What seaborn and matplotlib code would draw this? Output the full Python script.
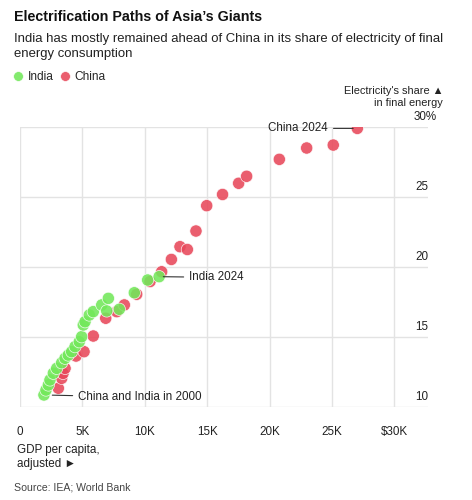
import matplotlib
matplotlib.use("Agg")
import matplotlib.pyplot as plt
import matplotlib.transforms as mtransforms
import numpy as np
import pandas as pd
import seaborn as sns


# GDP per capita (thousand $) and electricity share of final energy (%)
india_gdp = [1.92, 2.08, 2.27, 2.40, 2.67, 2.94, 3.34, 3.61, 3.87, 4.14, 4.41, 4.75,
             4.94, 5.07, 5.21, 5.55, 5.87, 6.55, 7.08, 6.95, 7.96, 9.16, 10.23, 11.15]
india_share = [10.86, 11.21, 11.57, 11.93, 12.41, 12.76, 13.16, 13.48, 13.71, 13.95, 14.31, 14.66,
               15.02, 15.86, 16.09, 16.57, 16.81, 17.29, 17.76, 16.86, 16.98, 18.16, 19.07, 19.31]

china_gdp = [3.07, 3.34, 3.45, 3.61, 4.49, 5.13, 5.87, 6.87, 7.75, 8.36, 9.35, 10.42, 11.35,
             12.13, 12.82, 13.41, 14.10, 14.96, 16.23, 17.52, 18.16, 20.78, 22.97, 25.10, 27.03]
china_share = [11.34, 12.05, 12.40, 12.76, 13.64, 13.95, 15.07, 16.34, 16.81, 17.29, 18.05, 18.96, 19.66,
               20.54, 21.45, 21.25, 22.57, 24.38, 25.18, 25.98, 26.48, 27.69, 28.50, 28.71, 29.90]

x_ticks = [0, 5, 10, 15, 20, 25, 30]
x_labels = ["0", "5K", "10K", "15K", "20K", "25K", "$30K"]
y_ticks = [10, 15, 20, 25, 30]
y_labels = ["10", "15", "20", "25", "30%"]

colors = {"India": "#72e85a", "China": "#e8485a"}

df = pd.concat([
    pd.DataFrame({"gdp": china_gdp, "share": china_share, "country": "China"}),
    pd.DataFrame({"gdp": india_gdp, "share": india_share, "country": "India"}),
])

sns.set_theme(style="white")
plt.rcParams["font.family"] = ["Liberation Sans", "DejaVu Sans"]

W, H = 472, 500
fig = plt.figure(figsize=(W / 100, H / 100), dpi=100)
ax = fig.add_axes([20 / W, 1 - 407 / H, 408 / W, 280 / H])

sns.scatterplot(data=df, x="gdp", y="share", hue="country", hue_order=["India", "China"],
                palette=colors, s=78, alpha=0.88, edgecolor="white", linewidth=0.5,
                ax=ax, zorder=3)

ax.set_xlim(0, 408 / 12.48)
ax.set_ylim(10, 30)
ax.set_xticks(x_ticks)
ax.set_xticklabels(x_labels, fontsize=8.4, color="#222222")
ax.set_yticks(y_ticks)
ax.set_yticklabels([])
ax.tick_params(axis="y", length=0)
ax.tick_params(axis="x", length=5, color="#e3e3e3", width=1, pad=9)
ax.grid(True, color="#e3e3e3", linewidth=1)
ax.set_axisbelow(True)
for sp in ax.spines.values():
    sp.set_visible(False)
ax.set_xlabel("")
ax.set_ylabel("")

trans = mtransforms.blended_transform_factory(ax.transAxes, ax.transData)
for yv, lab in zip(y_ticks, y_labels):
    dx = 6.5 if lab.endswith("%") else 0
    ax.annotate(lab, xy=(1.0, yv), xycoords=trans, xytext=(dx, 3), textcoords="offset points",
                ha="right", va="bottom", fontsize=8.4, color="#222222")

# annotations
line = dict(arrowstyle="-", color="#333333", lw=0.8, shrinkA=1.5, shrinkB=3)
ax.annotate("China 2024", xy=(china_gdp[-1], china_share[-1]), xytext=(-21, 0),
            textcoords="offset points", ha="right", va="center", fontsize=8.4, color="#222222",
            arrowprops=line)
ax.annotate("India 2024", xy=(india_gdp[-1], india_share[-1]), xytext=(21.5, -0.5),
            textcoords="offset points", ha="left", va="center", fontsize=8.4, color="#222222",
            arrowprops=line)
ax.annotate("China and India in 2000", xy=(india_gdp[0], india_share[0]), xytext=(24.5, -1.6),
            textcoords="offset points", ha="left", va="center", fontsize=8.4, color="#222222",
            arrowprops=dict(line, shrinkB=6))

sns.move_legend(ax, "center left", bbox_to_anchor=(-0.016, 1.179), ncol=2, title=None,
                frameon=False, fontsize=8.6, handletextpad=0.4, columnspacing=0.55,
                handlelength=0.8, borderpad=0, borderaxespad=0, markerscale=0.8)

fig.text(14 / W, 1 - 17 / H, "Electrification Paths of Asia\u2019s Giants", fontsize=10.3,
         fontweight="bold", ha="left", va="center", color="#111111")
fig.text(14 / W, 1 - 46.5 / H,
         "India has mostly remained ahead of China in its share of electricity of final\nenergy consumption",
         fontsize=9.45, ha="left", va="center", color="#222222", linespacing=1.3)
fig.text(443 / W, 1 - 97 / H, "Electricity's share \u25b2\nin final energy", fontsize=7.9,
         ha="right", va="center", color="#222222", linespacing=1.15)
fig.text(17 / W, 1 - 457 / H, "GDP per capita,\nadjusted \u25ba", fontsize=8.4,
         ha="left", va="center", color="#222222", linespacing=1.15)
fig.text(14 / W, 1 - 487 / H, "Source: IEA; World Bank", fontsize=7.6,
         ha="left", va="center", color="#444444")

fig.savefig("out.png", dpi=100)
